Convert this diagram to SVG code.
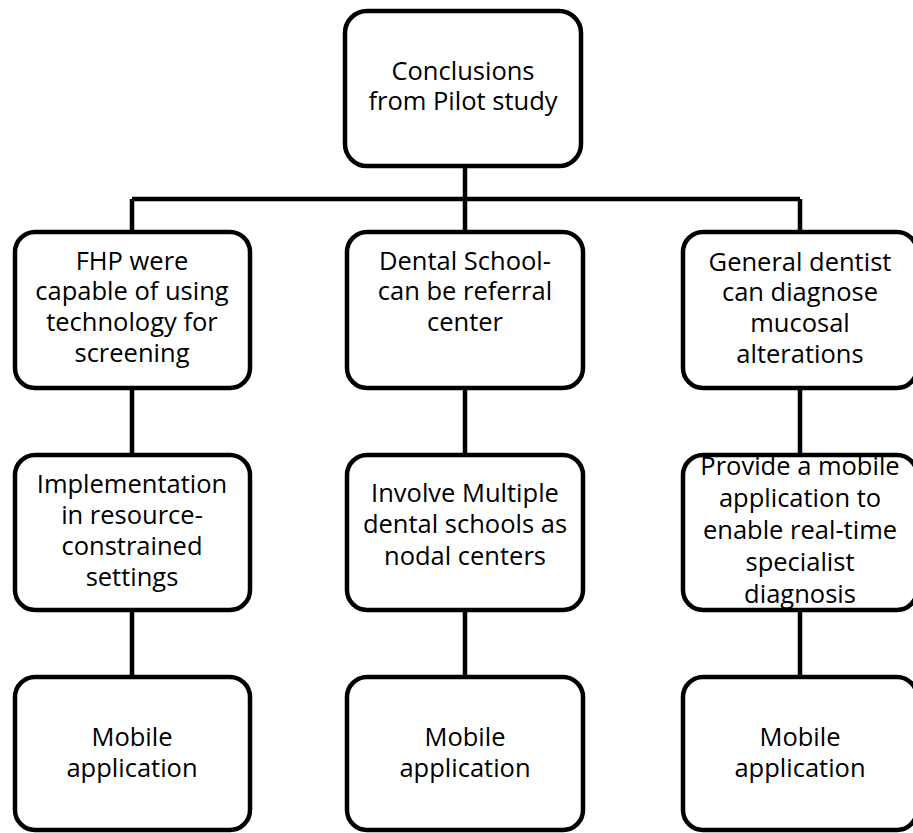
<svg xmlns="http://www.w3.org/2000/svg" width="913" height="833" viewBox="0 0 913 833">
<style>
.box{fill:#fff;stroke:#000;stroke-width:4.5}
.ln{fill:none;stroke:#000;stroke-width:4.5}
text{font-family:"Open Sans","Liberation Sans",sans-serif;font-size:25.5px;fill:#000;text-anchor:middle}
</style>
<rect width="913" height="833" fill="#fff"/>
<g id="connectors">
<path class="ln" d="M465,166 V232 M132,199 H800 M132,199 V232 M800,199 V232"/>
<path class="ln" d="M132,388 V455 M465,388 V455 M800,388 V455"/>
<path class="ln" d="M132,610 V677 M465,610 V677 M800,610 V677"/>
</g>
<g id="n0">
<rect class="box" x="345" y="11" width="236" height="155" rx="22"/>
<text x="463" y="80">Conclusions</text>
<text x="463" y="110">from Pilot study</text>
</g>
<g id="n1">
<rect class="box" x="15" y="232" width="235" height="156" rx="20"/>
<text x="132" y="270">FHP were</text>
<text x="132" y="300">capable of using</text>
<text x="132" y="331">technology for</text>
<text x="132" y="362">screening</text>
</g>
<g id="n2">
<rect class="box" x="347" y="232" width="236" height="156" rx="20"/>
<text x="465" y="270">Dental School-</text>
<text x="465" y="300">can be referral</text>
<text x="465" y="331">center</text>
</g>
<g id="n3">
<rect class="box" x="683" y="232" width="234" height="156" rx="20"/>
<text x="800" y="271">General dentist</text>
<text x="800" y="301">can diagnose</text>
<text x="800" y="332">mucosal</text>
<text x="800" y="363">alterations</text>
</g>
<g id="n4">
<rect class="box" x="15" y="455" width="235" height="155" rx="20"/>
<text x="132" y="493">Implementation</text>
<text x="132" y="524">in resource-</text>
<text x="132" y="555">constrained</text>
<text x="132" y="586">settings</text>
</g>
<g id="n5">
<rect class="box" x="347" y="455" width="236" height="155" rx="20"/>
<text x="465" y="502">Involve Multiple</text>
<text x="465" y="533">dental schools as</text>
<text x="465" y="565">nodal centers</text>
</g>
<g id="n6">
<rect class="box" x="683" y="455" width="234" height="155" rx="20"/>
<text x="800" y="475">Provide a mobile</text>
<text x="800" y="507">application to</text>
<text x="800" y="539">enable real-time</text>
<text x="800" y="571">specialist</text>
<text x="800" y="603">diagnosis</text>
</g>
<g id="n7">
<rect class="box" x="15" y="677" width="235" height="153" rx="20"/>
<text x="132" y="746">Mobile</text>
<text x="132" y="777">application</text>
</g>
<g id="n8">
<rect class="box" x="347" y="677" width="236" height="153" rx="20"/>
<text x="465" y="746">Mobile</text>
<text x="465" y="777">application</text>
</g>
<g id="n9">
<rect class="box" x="683" y="677" width="234" height="153" rx="20"/>
<text x="800" y="746">Mobile</text>
<text x="800" y="777">application</text>
</g>
</svg>
